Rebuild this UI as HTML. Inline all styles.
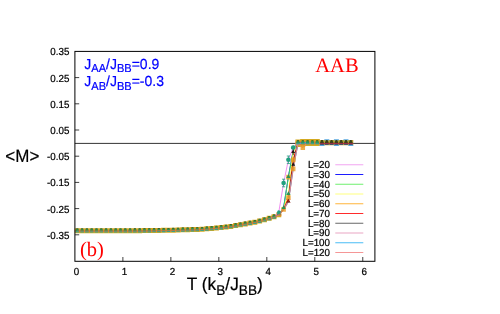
<!DOCTYPE html>
<html><head><meta charset="utf-8"><title>plot</title>
<style>
html,body{margin:0;padding:0;background:#fff}
body{width:500px;height:314px;position:relative;overflow:hidden;font-family:"Liberation Sans",sans-serif}
</style></head><body>
<svg width="500" height="314" viewBox="0 0 500 314" style="position:absolute;left:0;top:0;will-change:transform" text-rendering="geometricPrecision" font-family="'Liberation Sans', sans-serif">
<path d="M74.9 143.4H374.9" stroke="#000" stroke-width="0.8" fill="none"/>
<path d="M122.88 261.3v-4.3M170.86 261.3v-4.3M218.84 261.3v-4.3M266.82 261.3v-4.3M314.80 261.3v-4.3M362.78 261.3v-4.3M74.9 77.60h4.3M74.9 103.80h4.3M74.9 130.00h4.3M74.9 156.20h4.3M74.9 182.40h4.3M74.9 208.60h4.3M74.9 234.80h4.3" stroke="#000" stroke-width="0.75" fill="none"/>
<g>
<path d="M74.80 228.20h5.0v5.0h-5.0zM79.60 228.20h5.0v5.0h-5.0zM84.40 228.20h5.0v5.0h-5.0zM89.19 228.20h5.0v5.0h-5.0zM93.99 228.20h5.0v5.0h-5.0zM98.79 228.20h5.0v5.0h-5.0zM103.59 228.20h5.0v5.0h-5.0zM108.39 228.20h5.0v5.0h-5.0zM113.18 228.20h5.0v5.0h-5.0zM117.98 228.20h5.0v5.0h-5.0zM122.78 228.20h5.0v5.0h-5.0zM127.58 228.20h5.0v5.0h-5.0zM132.38 228.16h5.0v5.0h-5.0zM137.17 228.13h5.0v5.0h-5.0zM141.97 228.09h5.0v5.0h-5.0zM146.77 228.06h5.0v5.0h-5.0zM151.57 227.98h5.0v5.0h-5.0zM156.37 227.90h5.0v5.0h-5.0zM161.16 227.82h5.0v5.0h-5.0zM165.96 227.74h5.0v5.0h-5.0zM170.76 227.64h5.0v5.0h-5.0zM175.56 227.51h5.0v5.0h-5.0zM180.36 227.37h5.0v5.0h-5.0zM185.15 227.24h5.0v5.0h-5.0zM189.95 227.11h5.0v5.0h-5.0zM194.75 226.98h5.0v5.0h-5.0zM199.55 226.74h5.0v5.0h-5.0zM204.34 226.35h5.0v5.0h-5.0zM209.14 225.97h5.0v5.0h-5.0zM213.94 225.55h5.0v5.0h-5.0zM218.74 225.03h5.0v5.0h-5.0zM223.54 224.52h5.0v5.0h-5.0zM228.34 223.89h5.0v5.0h-5.0zM233.13 223.06h5.0v5.0h-5.0zM237.93 222.24h5.0v5.0h-5.0zM242.73 221.40h5.0v5.0h-5.0zM247.53 220.55h5.0v5.0h-5.0zM252.32 219.69h5.0v5.0h-5.0zM257.12 218.57h5.0v5.0h-5.0zM261.92 217.25h5.0v5.0h-5.0zM266.72 215.87h5.0v5.0h-5.0zM271.52 214.30h5.0v5.0h-5.0zM276.31 212.20h5.0v5.0h-5.0zM295.41 139.40h5.2v7.0h-5.2zM295.41 140.00h5.2v7.0h-5.2zM300.20 139.10h5.2v7.0h-5.2zM300.20 139.60h5.2v7.0h-5.2zM305.00 139.10h5.2v7.0h-5.2zM305.00 139.10h5.2v7.0h-5.2zM309.80 139.10h5.2v7.0h-5.2zM309.80 139.10h5.2v7.0h-5.2zM314.60 139.10h5.2v7.0h-5.2zM314.60 139.10h5.2v7.0h-5.2z" fill="#d4aa22"/>
<path d="M319.50 139.90h5.0v5.4h-5.0zM324.29 139.90h5.0v5.4h-5.0zM329.09 139.90h5.0v5.4h-5.0zM333.89 139.90h5.0v5.4h-5.0zM338.69 139.90h5.0v5.4h-5.0zM343.49 139.90h5.0v5.4h-5.0zM348.28 139.90h5.0v5.4h-5.0z" fill="#b4a030"/>
<path d="M319.50 144.70h5.0v1.2h-5.0zM324.29 139.20h5.0v1.4h-5.0zM333.89 139.20h5.0v1.4h-5.0zM333.89 144.70h5.0v1.2h-5.0zM343.49 139.20h5.0v1.4h-5.0zM348.28 144.70h5.0v1.2h-5.0z" fill="#58a8e0"/>
<path d="M74.85 229.80h4.9v2.2h-4.9zM79.65 229.80h4.9v2.2h-4.9zM84.45 229.80h4.9v2.2h-4.9zM89.24 229.80h4.9v2.2h-4.9zM94.04 229.80h4.9v2.2h-4.9zM98.84 229.80h4.9v2.2h-4.9zM103.64 229.80h4.9v2.2h-4.9zM108.44 229.80h4.9v2.2h-4.9zM113.23 229.80h4.9v2.2h-4.9zM118.03 229.80h4.9v2.2h-4.9zM122.83 229.80h4.9v2.2h-4.9zM127.63 229.80h4.9v2.2h-4.9zM132.43 229.76h4.9v2.2h-4.9zM137.22 229.73h4.9v2.2h-4.9zM142.02 229.69h4.9v2.2h-4.9zM146.82 229.66h4.9v2.2h-4.9zM151.62 229.58h4.9v2.2h-4.9zM156.42 229.50h4.9v2.2h-4.9zM161.21 229.42h4.9v2.2h-4.9zM166.01 229.34h4.9v2.2h-4.9zM170.81 229.24h4.9v2.2h-4.9zM175.61 229.11h4.9v2.2h-4.9zM180.41 228.97h4.9v2.2h-4.9zM185.20 228.84h4.9v2.2h-4.9zM190.00 228.71h4.9v2.2h-4.9zM194.80 228.58h4.9v2.2h-4.9zM199.60 228.34h4.9v2.2h-4.9zM204.40 227.95h4.9v2.2h-4.9zM209.19 227.57h4.9v2.2h-4.9zM213.99 227.15h4.9v2.2h-4.9zM218.79 226.63h4.9v2.2h-4.9zM223.59 226.12h4.9v2.2h-4.9zM228.39 225.49h4.9v2.2h-4.9zM233.18 224.66h4.9v2.2h-4.9zM237.98 223.84h4.9v2.2h-4.9zM242.78 223.00h4.9v2.2h-4.9zM247.58 222.15h4.9v2.2h-4.9zM252.38 221.29h4.9v2.2h-4.9zM257.17 220.17h4.9v2.2h-4.9zM261.97 218.85h4.9v2.2h-4.9zM266.77 217.47h4.9v2.2h-4.9zM271.57 215.90h4.9v2.2h-4.9zM276.37 213.80h4.9v2.2h-4.9zM295.56 141.50h4.9v3.0h-4.9zM295.56 142.10h4.9v3.0h-4.9zM300.35 141.20h4.9v3.0h-4.9zM300.35 141.70h4.9v3.0h-4.9zM305.15 141.20h4.9v3.0h-4.9zM305.15 141.20h4.9v3.0h-4.9zM309.95 141.20h4.9v3.0h-4.9zM309.95 141.20h4.9v3.0h-4.9zM314.75 141.20h4.9v3.0h-4.9zM314.75 141.20h4.9v3.0h-4.9z" fill="#dc8030"/>
<polyline points="269.2,218.4 274.0,216.8 278.8,212.0 283.6,183.0 288.4,159.8 293.2,147.5 298.0,142.5 302.8,142.5 307.6,142.5 312.4,142.5" fill="none" stroke="#ee82ee" stroke-width="0.9"/>
<polyline points="269.2,218.4 274.0,216.8 278.8,214.2 283.6,207.5 288.4,176.5 293.2,150.5 298.0,142.5 302.8,142.5 307.6,142.5 312.4,142.5" fill="none" stroke="#0000ff" stroke-width="0.9"/>
<polyline points="269.2,218.4 274.0,216.8 278.8,214.4 283.6,208.3 288.4,177.2 293.2,151.6 298.0,142.5 302.8,142.5 307.6,142.5 312.4,142.5" fill="none" stroke="#44ee44" stroke-width="0.9"/>
<polyline points="269.2,218.4 274.0,216.8 278.8,214.6 283.6,208.8 288.4,193.5 293.2,151.8 298.0,142.5 302.8,142.5 307.6,142.5 312.4,142.5" fill="none" stroke="#f4f460" stroke-width="0.9"/>
<polyline points="269.2,218.4 274.0,216.8 278.8,214.6 283.6,209.0 288.4,197.5 293.2,159.8 298.0,142.7 302.8,142.5 307.6,142.5 312.4,142.5" fill="none" stroke="#ffa500" stroke-width="0.9"/>
<polyline points="269.2,218.4 274.0,216.8 278.8,214.7 283.6,209.3 288.4,198.5 293.2,160.2 298.0,142.8 302.8,142.5 307.6,142.5 312.4,142.5" fill="none" stroke="#ff0000" stroke-width="0.9"/>
<polyline points="269.2,218.4 274.0,216.8 278.8,214.8 283.6,209.5 288.4,201.0 293.2,164.3 298.0,143.0 302.8,142.7 307.6,142.5 312.4,142.5" fill="none" stroke="#303030" stroke-width="0.9"/>
<polyline points="269.2,218.4 274.0,216.8 278.8,214.8 283.6,209.8 288.4,200.5 293.2,168.2 298.0,143.2 302.8,142.8 307.6,142.5 312.4,142.5" fill="none" stroke="#e090b8" stroke-width="0.9"/>
<polyline points="269.2,218.4 274.0,216.8 278.8,214.9 283.6,210.0 288.4,201.5 293.2,168.8 298.0,143.4 302.8,143.0 307.6,142.5 312.4,142.5" fill="none" stroke="#30b0f0" stroke-width="0.9"/>
<polyline points="269.2,218.4 274.0,216.8 278.8,214.9 283.6,210.2 288.4,202.0 293.2,169.2 298.0,143.6 302.8,147.7 307.6,142.5 312.4,142.5" fill="none" stroke="#f08080" stroke-width="0.9"/>
<path d="M281.36 206.95h4.5v4.7h-4.5zM286.16 195.15h4.5v4.7h-4.5zM290.96 157.45h4.5v4.7h-4.5zM290.96 166.45h4.5v4.7h-4.5zM286.16 174.85h4.5v4.7h-4.5zM300.55 145.35h4.5v4.7h-4.5z" fill="#e89a1e" opacity="0.8"/>
<path d="M75.45 231.10h3.7l-0.8 -2.5h-2.1zM80.25 231.10h3.7l-0.8 -2.5h-2.1zM85.05 231.10h3.7l-0.8 -2.5h-2.1zM89.84 231.10h3.7l-0.8 -2.5h-2.1zM94.64 231.10h3.7l-0.8 -2.5h-2.1zM99.44 231.10h3.7l-0.8 -2.5h-2.1zM104.24 231.10h3.7l-0.8 -2.5h-2.1zM109.04 231.10h3.7l-0.8 -2.5h-2.1zM113.83 231.10h3.7l-0.8 -2.5h-2.1zM118.63 231.10h3.7l-0.8 -2.5h-2.1zM123.43 231.10h3.7l-0.8 -2.5h-2.1zM128.23 231.10h3.7l-0.8 -2.5h-2.1zM133.03 231.06h3.7l-0.8 -2.5h-2.1zM137.82 231.03h3.7l-0.8 -2.5h-2.1zM142.62 230.99h3.7l-0.8 -2.5h-2.1zM147.42 230.96h3.7l-0.8 -2.5h-2.1zM152.22 230.88h3.7l-0.8 -2.5h-2.1zM157.02 230.80h3.7l-0.8 -2.5h-2.1zM161.81 230.72h3.7l-0.8 -2.5h-2.1zM166.61 230.64h3.7l-0.8 -2.5h-2.1zM171.41 230.54h3.7l-0.8 -2.5h-2.1zM176.21 230.41h3.7l-0.8 -2.5h-2.1zM181.01 230.27h3.7l-0.8 -2.5h-2.1zM185.80 230.14h3.7l-0.8 -2.5h-2.1zM190.60 230.01h3.7l-0.8 -2.5h-2.1zM195.40 229.88h3.7l-0.8 -2.5h-2.1zM200.20 229.64h3.7l-0.8 -2.5h-2.1zM205.00 229.25h3.7l-0.8 -2.5h-2.1zM209.79 228.87h3.7l-0.8 -2.5h-2.1zM214.59 228.45h3.7l-0.8 -2.5h-2.1zM219.39 227.93h3.7l-0.8 -2.5h-2.1zM224.19 227.42h3.7l-0.8 -2.5h-2.1zM228.99 226.79h3.7l-0.8 -2.5h-2.1zM233.78 225.96h3.7l-0.8 -2.5h-2.1zM238.58 225.14h3.7l-0.8 -2.5h-2.1zM243.38 224.30h3.7l-0.8 -2.5h-2.1zM248.18 223.45h3.7l-0.8 -2.5h-2.1zM252.97 222.59h3.7l-0.8 -2.5h-2.1zM257.77 221.47h3.7l-0.8 -2.5h-2.1zM262.57 220.15h3.7l-0.8 -2.5h-2.1zM267.37 218.77h3.7l-0.8 -2.5h-2.1zM272.17 217.20h3.7l-0.8 -2.5h-2.1zM276.96 214.60h3.7l-0.8 -2.5h-2.1zM296.16 142.90h3.7l-0.8 -2.5h-2.1zM300.95 142.90h3.7l-0.8 -2.5h-2.1zM305.75 142.90h3.7l-0.8 -2.5h-2.1zM310.55 142.90h3.7l-0.8 -2.5h-2.1zM315.35 142.90h3.7l-0.8 -2.5h-2.1z" fill="#2c9250"/>
<path d="M76.30 228.40h2.0v0.8h-2.0zM81.10 228.40h2.0v0.8h-2.0zM85.90 228.40h2.0v0.8h-2.0zM90.69 228.40h2.0v0.8h-2.0zM95.49 228.40h2.0v0.8h-2.0zM100.29 228.40h2.0v0.8h-2.0zM105.09 228.40h2.0v0.8h-2.0zM109.89 228.40h2.0v0.8h-2.0zM114.68 228.40h2.0v0.8h-2.0zM119.48 228.40h2.0v0.8h-2.0zM124.28 228.40h2.0v0.8h-2.0zM129.08 228.40h2.0v0.8h-2.0zM133.88 228.36h2.0v0.8h-2.0zM138.67 228.33h2.0v0.8h-2.0zM143.47 228.29h2.0v0.8h-2.0zM148.27 228.26h2.0v0.8h-2.0zM153.07 228.18h2.0v0.8h-2.0zM157.87 228.10h2.0v0.8h-2.0zM162.66 228.02h2.0v0.8h-2.0zM167.46 227.94h2.0v0.8h-2.0zM172.26 227.84h2.0v0.8h-2.0zM177.06 227.71h2.0v0.8h-2.0zM181.86 227.57h2.0v0.8h-2.0zM186.65 227.44h2.0v0.8h-2.0zM191.45 227.31h2.0v0.8h-2.0zM196.25 227.18h2.0v0.8h-2.0zM201.05 226.94h2.0v0.8h-2.0zM205.84 226.55h2.0v0.8h-2.0zM210.64 226.17h2.0v0.8h-2.0zM215.44 225.75h2.0v0.8h-2.0zM220.24 225.23h2.0v0.8h-2.0zM225.04 224.72h2.0v0.8h-2.0zM229.84 224.09h2.0v0.8h-2.0zM234.63 223.26h2.0v0.8h-2.0zM239.43 222.44h2.0v0.8h-2.0zM244.23 221.60h2.0v0.8h-2.0zM249.03 220.75h2.0v0.8h-2.0zM253.82 219.89h2.0v0.8h-2.0zM258.62 218.77h2.0v0.8h-2.0zM263.42 217.45h2.0v0.8h-2.0zM268.22 216.07h2.0v0.8h-2.0zM273.02 214.50h2.0v0.8h-2.0zM277.81 211.90h2.0v0.8h-2.0zM297.01 140.20h2.0v0.8h-2.0zM301.80 140.20h2.0v0.8h-2.0zM306.60 140.20h2.0v0.8h-2.0zM311.40 140.20h2.0v0.8h-2.0zM316.20 140.20h2.0v0.8h-2.0z" fill="#4a5a20"/>
<path d="M75.50 230.95h3.6v1.6h-3.6zM80.30 230.95h3.6v1.6h-3.6zM85.10 230.95h3.6v1.6h-3.6zM89.89 230.95h3.6v1.6h-3.6zM94.69 230.95h3.6v1.6h-3.6zM99.49 230.95h3.6v1.6h-3.6zM104.29 230.95h3.6v1.6h-3.6zM109.09 230.95h3.6v1.6h-3.6zM113.88 230.95h3.6v1.6h-3.6zM118.68 230.95h3.6v1.6h-3.6zM123.48 230.95h3.6v1.6h-3.6zM128.28 230.95h3.6v1.6h-3.6zM133.07 230.91h3.6v1.6h-3.6zM137.87 230.88h3.6v1.6h-3.6zM142.67 230.84h3.6v1.6h-3.6zM147.47 230.81h3.6v1.6h-3.6zM152.27 230.73h3.6v1.6h-3.6zM157.06 230.65h3.6v1.6h-3.6zM161.86 230.57h3.6v1.6h-3.6zM166.66 230.49h3.6v1.6h-3.6zM171.46 230.39h3.6v1.6h-3.6zM176.26 230.26h3.6v1.6h-3.6zM181.06 230.12h3.6v1.6h-3.6zM185.85 229.99h3.6v1.6h-3.6zM190.65 229.86h3.6v1.6h-3.6zM195.45 229.73h3.6v1.6h-3.6zM200.25 229.49h3.6v1.6h-3.6zM205.04 229.10h3.6v1.6h-3.6zM209.84 228.72h3.6v1.6h-3.6zM214.64 228.30h3.6v1.6h-3.6zM219.44 227.78h3.6v1.6h-3.6zM224.24 227.27h3.6v1.6h-3.6zM229.03 226.64h3.6v1.6h-3.6zM233.83 225.81h3.6v1.6h-3.6zM238.63 224.99h3.6v1.6h-3.6zM243.43 224.15h3.6v1.6h-3.6zM248.23 223.30h3.6v1.6h-3.6zM253.02 222.44h3.6v1.6h-3.6zM257.82 221.32h3.6v1.6h-3.6zM262.62 220.00h3.6v1.6h-3.6zM267.42 218.62h3.6v1.6h-3.6zM272.22 217.05h3.6v1.6h-3.6zM277.01 212.25h3.6v1.6h-3.6zM296.21 142.75h3.6v1.6h-3.6zM301.00 142.75h3.6v1.6h-3.6zM305.80 142.75h3.6v1.6h-3.6zM310.60 142.75h3.6v1.6h-3.6zM315.40 142.75h3.6v1.6h-3.6z" fill="#3aa08a"/>
<polyline points="77.3,231.0 82.1,231.0 86.9,231.0 91.7,231.0 96.5,231.0 101.3,231.0 106.1,231.0 110.9,231.0 115.7,231.0 120.5,231.0 125.3,231.0 130.1,231.0 134.9,231.0 139.7,230.9 144.5,230.9 149.3,230.9 154.1,230.8 158.9,230.7 163.7,230.6 168.5,230.5 173.3,230.4 178.1,230.3 182.9,230.2 187.7,230.0 192.5,229.9 197.2,229.8 202.0,229.5 206.8,229.2 211.6,228.8 216.4,228.3 221.2,227.8 226.0,227.3 230.8,226.7 235.6,225.9 240.4,225.0 245.2,224.2 250.0,223.3 254.8,222.5 259.6,221.4 264.4,220.0 269.2,218.7 274.0,217.1 278.8,214.9 283.6,209.3" fill="none" stroke="#e0703a" stroke-width="0.8" opacity="0.85"/>
<path d="M320.00 142.90h4.0l-1.2 -2.8h-1.6zM324.79 142.90h4.0l-1.2 -2.8h-1.6zM329.59 142.90h4.0l-1.2 -2.8h-1.6zM334.39 142.90h4.0l-1.2 -2.8h-1.6zM339.19 142.90h4.0l-1.2 -2.8h-1.6zM343.99 142.90h4.0l-1.2 -2.8h-1.6zM348.78 142.90h4.0l-1.2 -2.8h-1.6z" fill="#38421a"/>
<path d="M320.10 143.55h3.8v1.3h-3.8zM324.89 143.55h3.8v1.3h-3.8zM329.69 143.55h3.8v1.3h-3.8zM334.49 143.55h3.8v1.3h-3.8zM339.29 143.55h3.8v1.3h-3.8zM344.09 143.55h3.8v1.3h-3.8zM348.88 143.55h3.8v1.3h-3.8z" fill="#283878"/>
<path d="M319.6 143.4H353.2" stroke="#a81840" stroke-width="0.8" fill="none"/>
<path d="M281.41 209.10h4.4l-2.2 -3.8zM286.21 178.10h4.4l-2.2 -3.8zM286.21 195.10h4.4l-2.2 -3.8zM291.01 149.10h4.4l-2.2 -3.8z" fill="#2c9250"/>
<path d="M286.41 202.50h4l-2 -3.4zM291.21 153.10h4l-2 -3.4zM291.21 165.80h4l-2 -3.4z" fill="#201810"/>
<path d="M293.2 148.0v7.2" stroke="#201810" stroke-width="0.8" fill="none"/>
<path d="M286.9 199.5l3 3m0 -3l-3 3" stroke="#e02010" stroke-width="0.8" fill="none"/>
<circle cx="278.81" cy="212.00" r="1.7" fill="#22a080"/>
<circle cx="283.61" cy="183.00" r="2.3" fill="#22a080"/>
<circle cx="288.41" cy="159.80" r="2.3" fill="#22a080"/>
<circle cx="293.21" cy="147.50" r="2.3" fill="#22a080"/>
<path d="M283.6 179.2V186.8M282.0 179.2h3.2M282.0 186.8h3.2M288.4 156.0V163.6M286.8 156.0h3.2M286.8 163.6h3.2" stroke="#22a080" stroke-width="0.8" fill="none"/>
</g>
<rect x="74.9" y="51.4" width="300.0" height="209.9" fill="none" stroke="#000" stroke-width="1"/>
<g font-size="9.8" fill="#000" stroke="#000" stroke-width="0.22">
<text transform="translate(76.40 274.60) scale(1 1.04)" text-anchor="middle" >0</text>
<text transform="translate(124.38 274.60) scale(1 1.04)" text-anchor="middle" >1</text>
<text transform="translate(172.36 274.60) scale(1 1.04)" text-anchor="middle" >2</text>
<text transform="translate(220.34 274.60) scale(1 1.04)" text-anchor="middle" >3</text>
<text transform="translate(268.32 274.60) scale(1 1.04)" text-anchor="middle" >4</text>
<text transform="translate(316.30 274.60) scale(1 1.04)" text-anchor="middle" >5</text>
<text transform="translate(364.28 274.60) scale(1 1.04)" text-anchor="middle" >6</text>
<text transform="translate(69.40 55.40) scale(1 1.04)" text-anchor="end" >0.35</text>
<text transform="translate(69.40 81.60) scale(1 1.04)" text-anchor="end" >0.25</text>
<text transform="translate(69.40 107.80) scale(1 1.04)" text-anchor="end" >0.15</text>
<text transform="translate(69.40 134.00) scale(1 1.04)" text-anchor="end" >0.05</text>
<text transform="translate(69.40 160.20) scale(1 1.04)" text-anchor="end" >-0.05</text>
<text transform="translate(69.40 186.40) scale(1 1.04)" text-anchor="end" >-0.15</text>
<text transform="translate(69.40 212.60) scale(1 1.04)" text-anchor="end" >-0.25</text>
<text transform="translate(69.40 238.80) scale(1 1.04)" text-anchor="end" >-0.35</text>
<text transform="translate(330.00 168.15) scale(1 1.04)" text-anchor="end" >L=20</text>
<text transform="translate(330.00 177.90) scale(1 1.04)" text-anchor="end" >L=30</text>
<text transform="translate(330.00 187.65) scale(1 1.04)" text-anchor="end" >L=40</text>
<text transform="translate(330.00 197.40) scale(1 1.04)" text-anchor="end" >L=50</text>
<text transform="translate(330.00 207.15) scale(1 1.04)" text-anchor="end" >L=60</text>
<text transform="translate(330.00 216.90) scale(1 1.04)" text-anchor="end" >L=70</text>
<text transform="translate(330.00 226.65) scale(1 1.04)" text-anchor="end" >L=80</text>
<text transform="translate(330.00 236.40) scale(1 1.04)" text-anchor="end" >L=90</text>
<text transform="translate(330.00 246.15) scale(1 1.04)" text-anchor="end" >L=100</text>
<text transform="translate(330.00 255.90) scale(1 1.04)" text-anchor="end" >L=120</text>
</g>
<path d="M335.3 164.75H363.3" stroke="#f0a0f0" stroke-width="0.95" fill="none"/>
<path d="M335.3 174.50H363.3" stroke="#1010ff" stroke-width="0.95" fill="none"/>
<path d="M335.3 184.25H363.3" stroke="#66ee66" stroke-width="0.95" fill="none"/>
<path d="M335.3 194.00H363.3" stroke="#ffff77" stroke-width="0.95" fill="none"/>
<path d="M335.3 203.75H363.3" stroke="#ffb030" stroke-width="0.95" fill="none"/>
<path d="M335.3 213.50H363.3" stroke="#ff2020" stroke-width="0.95" fill="none"/>
<path d="M335.3 223.25H363.3" stroke="#606060" stroke-width="0.95" fill="none"/>
<path d="M335.3 233.00H363.3" stroke="#e8a0c0" stroke-width="0.95" fill="none"/>
<path d="M335.3 242.75H363.3" stroke="#40b8f4" stroke-width="0.95" fill="none"/>
<path d="M335.3 252.50H363.3" stroke="#f49090" stroke-width="0.95" fill="none"/>
<g font-size="14" fill="#0000ff" stroke="#0000ff" stroke-width="0.2">
<text transform="translate(84.30 68.50) scale(1 1.04)" text-anchor="start" >J<tspan font-size="11.06" dy="3.63">AA</tspan><tspan dy="-3.63">/J</tspan><tspan font-size="11.06" dy="3.63">BB</tspan><tspan dy="-3.63">=0.9</tspan></text>
<text transform="translate(84.30 85.90) scale(1 1.04)" text-anchor="start" >J<tspan font-size="11.06" dy="3.63">AB</tspan><tspan dy="-3.63">/J</tspan><tspan font-size="11.06" dy="3.63">BB</tspan><tspan dy="-3.63">=-0.3</tspan></text>
</g>
<g font-family="'Liberation Serif', serif" font-size="20.5" fill="#ff0000">
<text x="315.3" y="71.6">AAB</text>
<text x="80" y="255.6">(b)</text>
</g>
<text transform="translate(186.80 289.90) scale(1 1.04)" text-anchor="start" font-size="17.3" fill="#000" stroke="#000" stroke-width="0.2">T (k<tspan font-size="13.67" dy="4.49">B</tspan><tspan dy="-4.49">/J</tspan><tspan font-size="13.67" dy="4.49">BB</tspan><tspan dy="-4.49">)</tspan></text>
<text transform="translate(5.30 162.00) scale(1 1.04)" text-anchor="start" font-size="17" fill="#000" stroke="#000" stroke-width="0.2">&lt;M&gt;</text>
</svg>
</body></html>
